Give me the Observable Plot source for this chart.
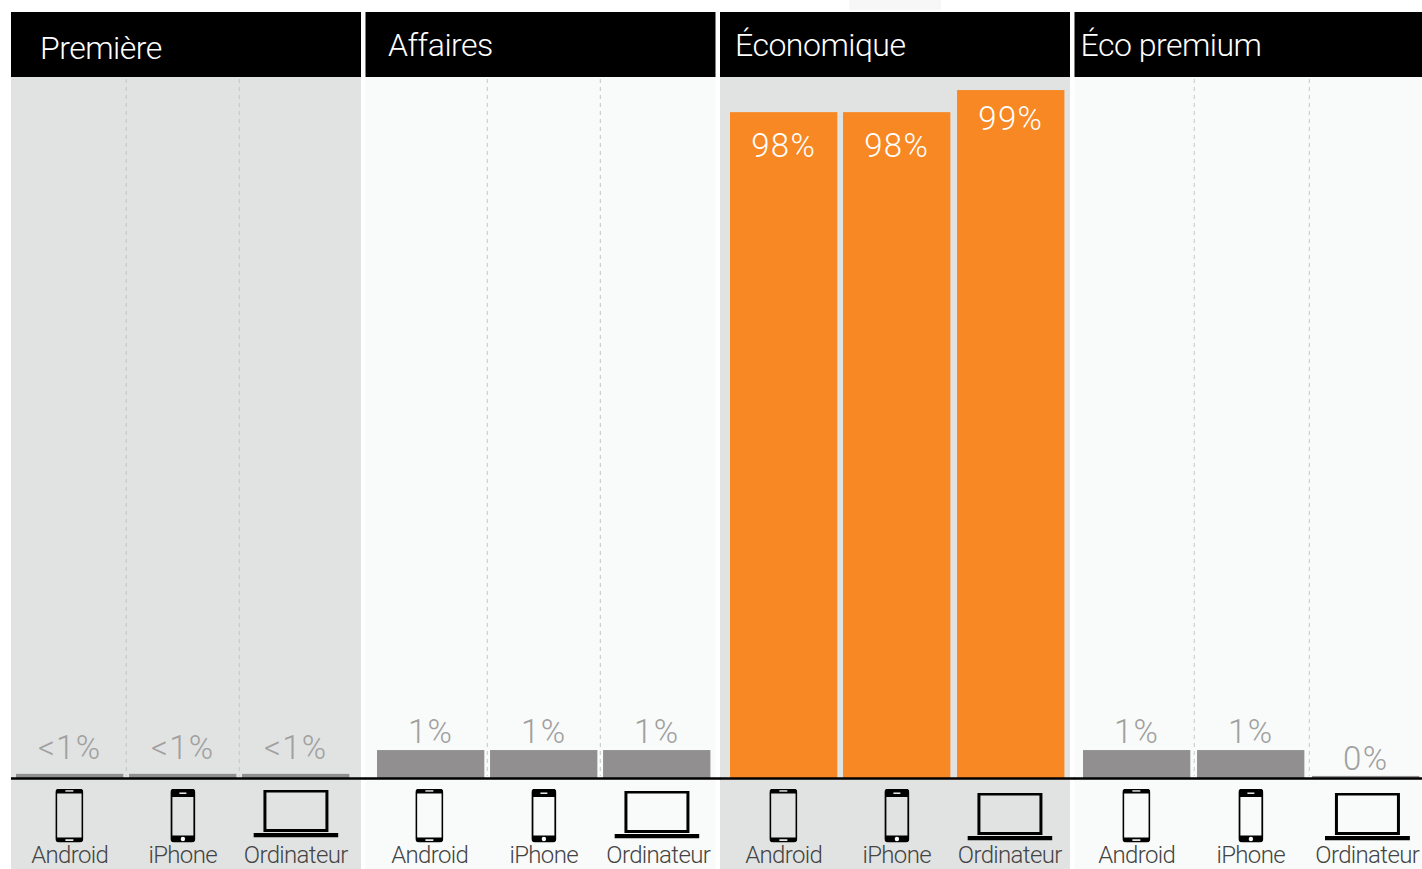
<!DOCTYPE html>
<html lang="fr">
<head>
<meta charset="utf-8">
<style>
html,body{margin:0;padding:0;background:#fff;overflow:hidden}
svg{display:block}
.panel-title text{letter-spacing:-0.5px}
.value-label text{letter-spacing:1.3px}
.device-caption text{letter-spacing:-0.65px}
</style>
<script src="https://cdn.jsdelivr.net/npm/d3@7"></script>
<script src="https://cdn.jsdelivr.net/npm/@observablehq/plot@0.6"></script>
</head>
<body>
<script>
// ---- data ----
const panels = ["Première", "Affaires", "Économique", "Éco premium"];
const devices = ["Android", "iPhone", "Ordinateur"];
// drawn bar height on the 0-100 axis (the bars are not strictly to scale)
const heights = [
  [0.6, 0.6, 0.6],
  [4.05, 4.05, 4.05],
  [96.5, 96.5, 99.7],
  [4.05, 4.05, 0.3]
];
const labels = [
  ["<1%", "<1%", "<1%"],
  ["1%", "1%", "1%"],
  ["98%", "98%", "99%"],
  ["1%", "1%", "0%"]
];
// ---- style ----
const panelFills = ["#e1e3e2", "#f9fbfa", "#e1e3e2", "#f9fbfa"];
const titleDx = [28.5, 22, 14.5, 5.5];
const titleDy = [36, 33, 33, 33];
const barShift = [[-3, -3.3, -3.6], [3.5, 3.2, 2.9], [2, 1.7, 2.4], [0.5, 1.2, 2.9]];
const captionNudge = [[0, 0, 0], [-1, 0, 1.5], [0, 0, -1], [0, 0, 1.5]];
const iconNudge = [[0, 0, 0], [-1, 0, 0], [0, 0, -1], [0, 0, 1.5]];
const laptopDy = [0, 1, 3, 3];
const font = "Roboto, sans-serif";

const svgUri = (w, h, body) =>
  "data:image/svg+xml," + encodeURIComponent(`<svg xmlns="http://www.w3.org/2000/svg" width="${w}" height="${h}" viewBox="0 0 ${w} ${h}">${body}</svg>`);
const icons = {
  Android: {w: 28, h: 54, href: svgUri(28, 54,
    `<path fill-rule="evenodd" d="M4 0H24Q28 0 28 4V50Q28 54 24 54H4Q0 54 0 50V4Q0 0 4 0ZM1.8 5V49H26.2V5Z"/><rect x="10" y="1.8" width="8" height="1.3" fill="#fff"/><rect x="10" y="50.8" width="8" height="1.6" fill="#fff"/>`)},
  iPhone: {w: 25, h: 54, href: svgUri(25, 54,
    `<path fill-rule="evenodd" d="M4 0H21Q25 0 25 4V50Q25 54 21 54H4Q0 54 0 50V4Q0 0 4 0ZM2 8.5V47H23V8.5Z"/><rect x="9" y="4" width="7" height="1.4" fill="#fff"/><circle cx="12.5" cy="50.5" r="2.2" fill="#fff"/>`)},
  Ordinateur: {w: 85, h: 48, href: svgUri(85, 48,
    `<path fill-rule="evenodd" d="M10 0H75V42.5H10ZM13 3V39.5H72V3Z"/><rect x="0" y="43.5" width="85" height="4.5"/>`)}
};

const cells = panels.flatMap((panel, p) => devices.map((device, d) => ({
  panel, device, p, d, h: heights[p][d], label: labels[p][d]
})));
const orange = (r) => r.p === 2;
const bw = 107.3;
const labelDy = (r) => orange(r) ? (r.label === "99%" ? 29 : 34) : (r.label === "<1%" ? -26 : r.label === "0%" ? -17 : -18);

const marks = [
  // panel backgrounds and black headers
  panels.map((panel, p) => Plot.rect([panel], {fx: (d) => d, fill: panelFills[p], insetTop: 77})),
  panels.map((panel) => Plot.rect([panel], {fx: (d) => d, fill: "#000", insetTop: 12, insetBottom: 792})),
  Plot.rect([panels[2]], {fx: (d) => d, fill: "#f7f7f7", insetLeft: 129, insetRight: 129, insetBottom: 859}),
  panels.map((panel, p) => Plot.text([panel], {
    fx: (d) => d, text: (d) => d, frameAnchor: "top-left", dx: titleDx[p], dy: titleDy[p],
    fill: "#fff", fontSize: 32, fontWeight: 300, fontFamily: font, textAnchor: "start", className: "panel-title"
  })),
  // dashed separators between the columns (none on the highlighted panel)
  cells.filter((r) => r.d > 0 && !orange(r)).map((r) => Plot.ruleX([r], {
    fx: "panel", x: "device", dx: barShift[r.p][r.d] - 3.3 - bw / 2,
    stroke: "#c4c5c5", strokeWidth: 1, strokeDasharray: "4,4", insetTop: 79, insetBottom: 93
  })),
  // bars
  cells.map((r) => Plot.barY([r], {
    fx: "panel", x: "device", y: "h", dx: barShift[r.p][r.d],
    fill: orange(r) ? "#f78823" : "#918f90"
  })),
  // value labels: above the small bars, inside the tall ones
  cells.map((r) => Plot.text([r], {
    fx: "panel", x: "device", y: "h", text: "label", dx: barShift[r.p][r.d] - 0.5,
    dy: labelDy(r),
    fill: orange(r) ? "#fff" : "#a0a0a0", fontSize: 33, fontWeight: 300, fontFamily: font, className: "value-label"
  })),
  // device icons and captions
  cells.map((r) => Plot.image([r], {
    fx: "panel", x: "device", frameAnchor: "bottom", src: () => icons[r.device].href,
    width: icons[r.device].w, height: icons[r.device].h,
    dx: barShift[r.p][r.d] + iconNudge[r.p][r.d] - (r.d === 0 ? 0.8 : 0.3),
    dy: r.d === 2 ? -56 + laptopDy[r.p] : -54
  })),
  cells.map((r) => Plot.text([r], {
    fx: "panel", x: "device", text: "device", frameAnchor: "bottom",
    dx: barShift[r.p][r.d] + captionNudge[r.p][r.d] - 0.5, dy: -7,
    fill: "#444", fontSize: 24, fontWeight: 300, fontFamily: font, className: "device-caption"
  })),
  // black baseline, running on over the gaps between the panels
  Plot.ruleY([0], {stroke: "#000", strokeWidth: 2.5, insetRight: -5})
];

const chart = Plot.plot({
  width: 1422, height: 869,
  marginTop: 0, marginRight: -2.5, marginBottom: 0, marginLeft: 11,
  style: {background: "#fff", overflow: "hidden"},
  fx: {domain: panels, paddingInner: 4.5 / 354.5, paddingOuter: 0, round: false, axis: null},
  x: {domain: devices, paddingInner: 0.053, paddingOuter: 0.0706, round: false, axis: null},
  y: {domain: [0, 100], range: [778, 88], axis: null},
  marks
});
document.body.appendChild(chart);
</script>
</body>
</html>
